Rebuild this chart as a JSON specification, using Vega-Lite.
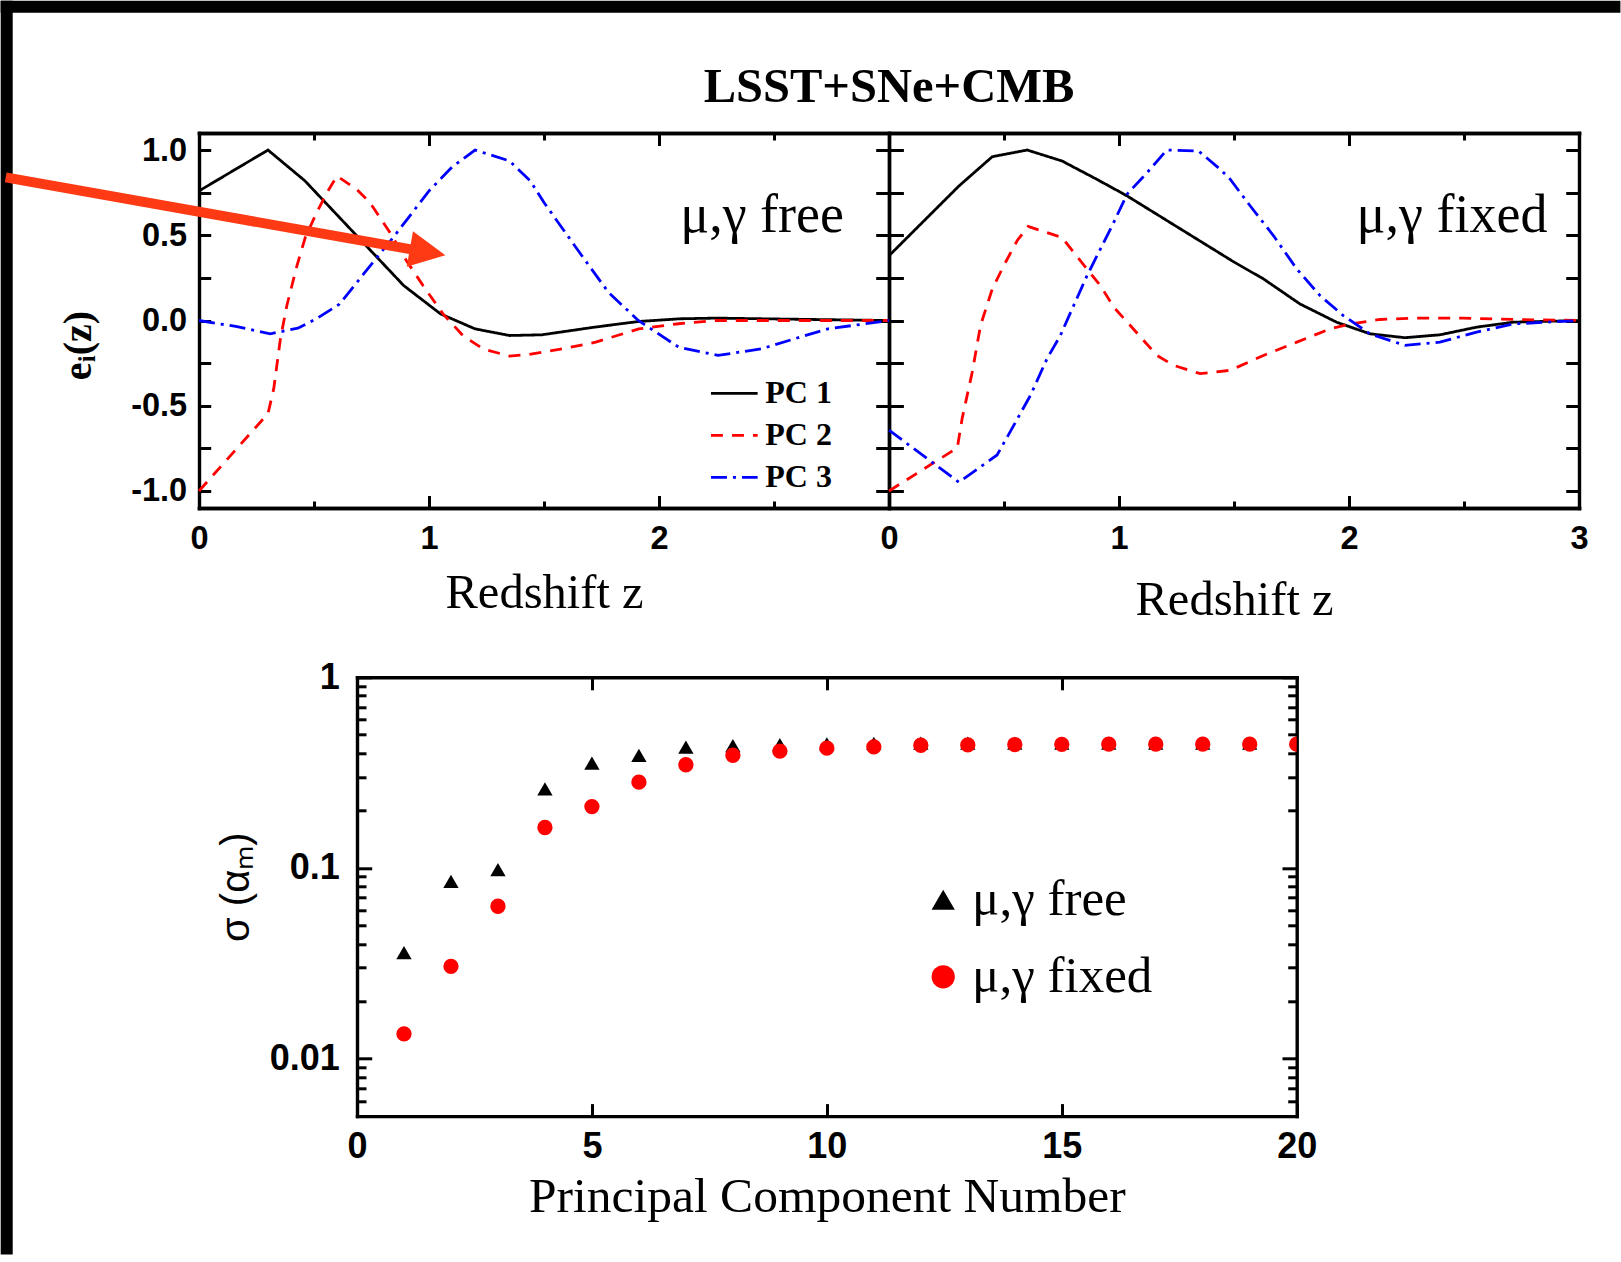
{
  "$schema": "https://vega.github.io/schema/vega-lite/v6.json",
  "background": "white",
  "padding": 0,
  "autosize": {"type": "pad"},
  "config": {
    "view": {"stroke": null},
    "axis": {"grid": false, "domainColor": "black", "domainWidth": 3.4, "domainCap": "square", "tickColor": "black", "tickWidth": 3, "labelColor": "black", "labelFont": "Liberation Sans", "labelFontWeight": "bold", "labelFlush": false, "labelOverlap": false, "labelBound": false, "titleColor": "black"},
    "legend": {"labelColor": "black", "labelLimit": 0}
  },
  "datasets": {
    "free": [
      {"pc": "PC 1", "z": 0, "e": 0.76}, {"pc": "PC 1", "z": 0.30, "e": 1.0}, {"pc": "PC 1", "z": 0.46, "e": 0.82}, {"pc": "PC 1", "z": 0.89, "e": 0.205}, {"pc": "PC 1", "z": 1.05, "e": 0.039}, {"pc": "PC 1", "z": 1.20, "e": -0.049}, {"pc": "PC 1", "z": 1.35, "e": -0.088}, {"pc": "PC 1", "z": 1.49, "e": -0.084}, {"pc": "PC 1", "z": 1.72, "e": -0.039}, {"pc": "PC 1", "z": 1.91, "e": -0.006}, {"pc": "PC 1", "z": 2.09, "e": 0.01}, {"pc": "PC 1", "z": 2.25, "e": 0.014}, {"pc": "PC 1", "z": 2.45, "e": 0.01}, {"pc": "PC 1", "z": 3.0, "e": 0.0},
      {"pc": "PC 2", "z": 0, "e": -1.0}, {"pc": "PC 2", "z": 0.30, "e": -0.546}, {"pc": "PC 2", "z": 0.325, "e": -0.40}, {"pc": "PC 2", "z": 0.354, "e": -0.107}, {"pc": "PC 2", "z": 0.382, "e": 0.088}, {"pc": "PC 2", "z": 0.426, "e": 0.322}, {"pc": "PC 2", "z": 0.462, "e": 0.487}, {"pc": "PC 2", "z": 0.512, "e": 0.634}, {"pc": "PC 2", "z": 0.556, "e": 0.75}, {"pc": "PC 2", "z": 0.60, "e": 0.848}, {"pc": "PC 2", "z": 0.685, "e": 0.77}, {"pc": "PC 2", "z": 0.743, "e": 0.692}, {"pc": "PC 2", "z": 0.83, "e": 0.517}, {"pc": "PC 2", "z": 0.902, "e": 0.351}, {"pc": "PC 2", "z": 0.974, "e": 0.205}, {"pc": "PC 2", "z": 1.061, "e": 0.039}, {"pc": "PC 2", "z": 1.147, "e": -0.088}, {"pc": "PC 2", "z": 1.234, "e": -0.166}, {"pc": "PC 2", "z": 1.349, "e": -0.209}, {"pc": "PC 2", "z": 1.436, "e": -0.199}, {"pc": "PC 2", "z": 1.58, "e": -0.166}, {"pc": "PC 2", "z": 1.725, "e": -0.127}, {"pc": "PC 2", "z": 1.912, "e": -0.049}, {"pc": "PC 2", "z": 2.085, "e": -0.019}, {"pc": "PC 2", "z": 2.244, "e": 0.0}, {"pc": "PC 2", "z": 3.0, "e": 0.0},
      {"pc": "PC 3", "z": 0, "e": 0.0}, {"pc": "PC 3", "z": 0.16, "e": -0.035}, {"pc": "PC 3", "z": 0.31, "e": -0.078}, {"pc": "PC 3", "z": 0.43, "e": -0.045}, {"pc": "PC 3", "z": 0.51, "e": 0.01}, {"pc": "PC 3", "z": 0.61, "e": 0.095}, {"pc": "PC 3", "z": 0.714, "e": 0.27}, {"pc": "PC 3", "z": 0.85, "e": 0.497}, {"pc": "PC 3", "z": 1.0, "e": 0.76}, {"pc": "PC 3", "z": 1.10, "e": 0.9}, {"pc": "PC 3", "z": 1.20, "e": 1.0}, {"pc": "PC 3", "z": 1.35, "e": 0.936}, {"pc": "PC 3", "z": 1.44, "e": 0.819}, {"pc": "PC 3", "z": 1.50, "e": 0.692}, {"pc": "PC 3", "z": 1.68, "e": 0.351}, {"pc": "PC 3", "z": 1.78, "e": 0.166}, {"pc": "PC 3", "z": 1.91, "e": 0.0}, {"pc": "PC 3", "z": 2.085, "e": -0.156}, {"pc": "PC 3", "z": 2.257, "e": -0.205}, {"pc": "PC 3", "z": 2.446, "e": -0.166}, {"pc": "PC 3", "z": 2.59, "e": -0.107}, {"pc": "PC 3", "z": 2.735, "e": -0.049}, {"pc": "PC 3", "z": 3.0, "e": 0.0}
    ],
    "fixed": [
      {"pc": "PC 1", "z": 0, "e": 0.38}, {"pc": "PC 1", "z": 0.304, "e": 0.789}, {"pc": "PC 1", "z": 0.449, "e": 0.961}, {"pc": "PC 1", "z": 0.601, "e": 1.0}, {"pc": "PC 1", "z": 0.752, "e": 0.936}, {"pc": "PC 1", "z": 0.904, "e": 0.828}, {"pc": "PC 1", "z": 1.035, "e": 0.731}, {"pc": "PC 1", "z": 1.5, "e": 0.343}, {"pc": "PC 1", "z": 1.628, "e": 0.244}, {"pc": "PC 1", "z": 1.787, "e": 0.097}, {"pc": "PC 1", "z": 1.946, "e": -0.01}, {"pc": "PC 1", "z": 2.091, "e": -0.078}, {"pc": "PC 1", "z": 2.243, "e": -0.101}, {"pc": "PC 1", "z": 2.395, "e": -0.084}, {"pc": "PC 1", "z": 2.555, "e": -0.039}, {"pc": "PC 1", "z": 2.714, "e": -0.01}, {"pc": "PC 1", "z": 3.0, "e": 0.0},
      {"pc": "PC 2", "z": 0, "e": -1.0}, {"pc": "PC 2", "z": 0.297, "e": -0.747}, {"pc": "PC 2", "z": 0.318, "e": -0.575}, {"pc": "PC 2", "z": 0.362, "e": -0.302}, {"pc": "PC 2", "z": 0.398, "e": -0.029}, {"pc": "PC 2", "z": 0.449, "e": 0.185}, {"pc": "PC 2", "z": 0.499, "e": 0.322}, {"pc": "PC 2", "z": 0.557, "e": 0.468}, {"pc": "PC 2", "z": 0.605, "e": 0.552}, {"pc": "PC 2", "z": 0.752, "e": 0.487}, {"pc": "PC 2", "z": 0.803, "e": 0.40}, {"pc": "PC 2", "z": 0.861, "e": 0.302}, {"pc": "PC 2", "z": 0.919, "e": 0.205}, {"pc": "PC 2", "z": 0.977, "e": 0.078}, {"pc": "PC 2", "z": 1.049, "e": -0.029}, {"pc": "PC 2", "z": 1.165, "e": -0.205}, {"pc": "PC 2", "z": 1.237, "e": -0.263}, {"pc": "PC 2", "z": 1.353, "e": -0.312}, {"pc": "PC 2", "z": 1.484, "e": -0.292}, {"pc": "PC 2", "z": 1.628, "e": -0.205}, {"pc": "PC 2", "z": 1.773, "e": -0.127}, {"pc": "PC 2", "z": 1.918, "e": -0.049}, {"pc": "PC 2", "z": 2.005, "e": -0.02}, {"pc": "PC 2", "z": 2.135, "e": 0.006}, {"pc": "PC 2", "z": 2.28, "e": 0.014}, {"pc": "PC 2", "z": 2.497, "e": 0.014}, {"pc": "PC 2", "z": 2.714, "e": 0.006}, {"pc": "PC 2", "z": 3.0, "e": 0.0},
      {"pc": "PC 3", "z": 0, "e": -0.643}, {"pc": "PC 3", "z": 0.304, "e": -0.949}, {"pc": "PC 3", "z": 0.47, "e": -0.789}, {"pc": "PC 3", "z": 0.543, "e": -0.614}, {"pc": "PC 3", "z": 0.615, "e": -0.439}, {"pc": "PC 3", "z": 0.687, "e": -0.224}, {"pc": "PC 3", "z": 0.745, "e": -0.088}, {"pc": "PC 3", "z": 0.803, "e": 0.088}, {"pc": "PC 3", "z": 0.861, "e": 0.263}, {"pc": "PC 3", "z": 0.919, "e": 0.419}, {"pc": "PC 3", "z": 0.977, "e": 0.575}, {"pc": "PC 3", "z": 1.035, "e": 0.741}, {"pc": "PC 3", "z": 1.122, "e": 0.867}, {"pc": "PC 3", "z": 1.208, "e": 1.0}, {"pc": "PC 3", "z": 1.346, "e": 0.994}, {"pc": "PC 3", "z": 1.44, "e": 0.887}, {"pc": "PC 3", "z": 1.484, "e": 0.828}, {"pc": "PC 3", "z": 1.57, "e": 0.673}, {"pc": "PC 3", "z": 1.672, "e": 0.497}, {"pc": "PC 3", "z": 1.773, "e": 0.302}, {"pc": "PC 3", "z": 1.874, "e": 0.146}, {"pc": "PC 3", "z": 1.975, "e": 0.029}, {"pc": "PC 3", "z": 2.091, "e": -0.078}, {"pc": "PC 3", "z": 2.243, "e": -0.146}, {"pc": "PC 3", "z": 2.395, "e": -0.127}, {"pc": "PC 3", "z": 2.555, "e": -0.068}, {"pc": "PC 3", "z": 2.714, "e": -0.02}, {"pc": "PC 3", "z": 3.0, "e": 0.0}
    ],
    "sigma": [
      {"n": 1, "case": "μ,γ free", "s": 0.036}, {"n": 2, "case": "μ,γ free", "s": 0.085}, {"n": 3, "case": "μ,γ free", "s": 0.098}, {"n": 4, "case": "μ,γ free", "s": 0.26}, {"n": 5, "case": "μ,γ free", "s": 0.355}, {"n": 6, "case": "μ,γ free", "s": 0.39}, {"n": 7, "case": "μ,γ free", "s": 0.43}, {"n": 8, "case": "μ,γ free", "s": 0.438}, {"n": 9, "case": "μ,γ free", "s": 0.443}, {"n": 10, "case": "μ,γ free", "s": 0.448}, {"n": 11, "case": "μ,γ free", "s": 0.45}, {"n": 12, "case": "μ,γ free", "s": 0.452}, {"n": 13, "case": "μ,γ free", "s": 0.452}, {"n": 14, "case": "μ,γ free", "s": 0.452}, {"n": 15, "case": "μ,γ free", "s": 0.452}, {"n": 16, "case": "μ,γ free", "s": 0.452}, {"n": 17, "case": "μ,γ free", "s": 0.452}, {"n": 18, "case": "μ,γ free", "s": 0.452}, {"n": 19, "case": "μ,γ free", "s": 0.452},
      {"n": 1, "case": "μ,γ fixed", "s": 0.0135}, {"n": 2, "case": "μ,γ fixed", "s": 0.0305}, {"n": 3, "case": "μ,γ fixed", "s": 0.063}, {"n": 4, "case": "μ,γ fixed", "s": 0.163}, {"n": 5, "case": "μ,γ fixed", "s": 0.21}, {"n": 6, "case": "μ,γ fixed", "s": 0.282}, {"n": 7, "case": "μ,γ fixed", "s": 0.348}, {"n": 8, "case": "μ,γ fixed", "s": 0.39}, {"n": 9, "case": "μ,γ fixed", "s": 0.41}, {"n": 10, "case": "μ,γ fixed", "s": 0.425}, {"n": 11, "case": "μ,γ fixed", "s": 0.432}, {"n": 12, "case": "μ,γ fixed", "s": 0.44}, {"n": 13, "case": "μ,γ fixed", "s": 0.442}, {"n": 14, "case": "μ,γ fixed", "s": 0.444}, {"n": 15, "case": "μ,γ fixed", "s": 0.445}, {"n": 16, "case": "μ,γ fixed", "s": 0.446}, {"n": 17, "case": "μ,γ fixed", "s": 0.446}, {"n": 18, "case": "μ,γ fixed", "s": 0.446}, {"n": 19, "case": "μ,γ fixed", "s": 0.446}, {"n": 20, "case": "μ,γ fixed", "s": 0.446}
    ]
  },
  "resolve": {"scale": {"color": "independent", "shape": "independent", "size": "independent", "strokeDash": "independent"}},
  "spacing": 169.3,
  "bounds": "flush",
  "vconcat": [
    {
      "width": 1380, "height": 375,
      "resolve": {"scale": {"x": "independent"}, "axis": {"x": "independent", "y": "independent"}},
      "layer": [
        {
          "data": {"values": [{}]},
          "mark": {"type": "rect", "color": "black"},
          "encoding": {
            "x": {"datum": -0.8622, "type": "quantitative", "scale": {"domain": [0, 6], "nice": false, "zero": false}, "axis": null},
            "x2": {"datum": 6.18},
            "y": {"datum": 1.8762, "type": "quantitative", "scale": {"domain": [-1.1, 1.1], "nice": false, "zero": false}, "axis": null},
            "y2": {"datum": 1.8058}
          }
        },
        {
          "data": {"values": [{}]},
          "mark": {"type": "rect", "color": "black"},
          "encoding": {
            "x": {"datum": -0.8622, "type": "quantitative", "scale": {"domain": [0, 6], "nice": false, "zero": false}, "axis": null},
            "x2": {"datum": -0.81},
            "y": {"datum": 1.8762, "type": "quantitative", "scale": {"domain": [-1.1, 1.1], "nice": false, "zero": false}, "axis": null},
            "y2": {"datum": -5.48}
          }
        },
        {
          "data": {"name": "free"},
          "mark": {"type": "line", "strokeWidth": 2.8},
          "encoding": {
            "x": {"field": "z", "type": "quantitative", "scale": {"domain": [0, 6], "nice": false, "zero": false},
              "axis": {"orient": "bottom", "values": [0, 0.5, 1, 1.5, 2, 2.5], "labelExpr": "datum.value % 1 === 0 ? '' + datum.value : ''", "tickSize": {"condition": {"test": "datum.value % 1 === 0", "value": -12.5}, "value": -7}, "labelFontSize": 32.5, "labelPadding": 27.4, "title": "Redshift z", "titleFont": "Liberation Serif", "titleFontWeight": "normal", "titleFontSize": 48.5, "titleBaseline": "alphabetic", "titleX": 345, "titleAlign": "center", "titleY": 99.9}},
            "y": {"field": "e", "type": "quantitative", "scale": {"domain": [-1.1, 1.1], "nice": false, "zero": false},
              "axis": {"orient": "left", "values": [-1, -0.75, -0.5, -0.25, 0, 0.25, 0.5, 0.75, 1], "labelExpr": "datum.value % 0.5 === 0 ? (datum.value < 0 ? '-' : '') + format(abs(datum.value), '.1f') : ''", "tickSize": -11.7, "labelFontSize": 32.5, "labelPadding": 24, "title": "eᵢ(z)", "titleFont": "Liberation Serif", "titleFontWeight": "bold", "titleFontSize": 40, "titleAngle": 270, "titleX": -120.5, "titleY": 212, "titleAlign": "center", "titleBaseline": "middle"}},
            "color": {"field": "pc", "type": "nominal", "scale": {"domain": ["PC 1", "PC 2", "PC 3"], "range": ["#000000", "#ff0000", "#0000ff"]},
              "legend": {"orient": "none", "legendX": 510.3, "legendY": 235.4, "title": null, "symbolType": "stroke", "symbolSize": 2180, "symbolStrokeWidth": 2.8, "labelFont": "Liberation Serif", "labelFontWeight": "bold", "labelFontSize": 32, "labelOffset": 6, "rowPadding": 1, "padding": 0}},
            "strokeDash": {"field": "pc", "type": "nominal", "scale": {"domain": ["PC 1", "PC 2", "PC 3"], "range": [[1, 0], [12, 9], [16, 6, 3, 6]]},
              "legend": {"orient": "none", "legendX": 510.3, "legendY": 235.4, "title": null, "symbolType": "stroke", "symbolSize": 2180, "symbolStrokeWidth": 2.8, "labelFont": "Liberation Serif", "labelFontWeight": "bold", "labelFontSize": 32, "labelOffset": 6, "rowPadding": 1, "padding": 0}}
          }
        },
        {
          "data": {"name": "fixed"},
          "mark": {"type": "line", "strokeWidth": 2.8},
          "encoding": {
            "x": {"field": "z", "type": "quantitative", "scale": {"domain": [-3, 3], "nice": false, "zero": false},
              "axis": {"orient": "bottom", "values": [0, 0.5, 1, 1.5, 2, 2.5, 3], "labelExpr": "datum.value % 1 === 0 ? '' + datum.value : ''", "tickSize": {"condition": {"test": "datum.value % 1 === 0", "value": -12.5}, "value": -7}, "labelFontSize": 32.5, "labelPadding": 27.4, "title": "Redshift z", "titleFont": "Liberation Serif", "titleFontWeight": "normal", "titleFontSize": 48.5, "titleBaseline": "alphabetic", "titleX": 1035, "titleAlign": "center", "titleY": 106.9}},
            "y": {"field": "e", "type": "quantitative", "scale": {"domain": [-1.1, 1.1], "nice": false, "zero": false},
              "axis": {"orient": "right", "values": [-1, -0.75, -0.5, -0.25, 0, 0.25, 0.5, 0.75, 1], "labels": false, "tickSize": -13.3, "title": null}},
            "color": {"field": "pc", "type": "nominal", "scale": {"domain": ["PC 1", "PC 2", "PC 3"], "range": ["#000000", "#ff0000", "#0000ff"]}},
            "strokeDash": {"field": "pc", "type": "nominal", "scale": {"domain": ["PC 1", "PC 2", "PC 3"], "range": [[1, 0], [12, 9], [16, 6, 3, 6]]}}
          }
        },
        {
          "data": {"name": "free"},
          "mark": {"type": "line", "opacity": 0},
          "encoding": {
            "x": {"field": "z", "type": "quantitative", "scale": {"domain": [0, 6], "nice": false, "zero": false},
              "axis": {"orient": "top", "values": [0.5, 1, 1.5, 2, 2.5], "labels": false, "tickSize": {"condition": {"test": "datum.value % 1 === 0", "value": -12.5}, "value": -7}, "title": null}},
            "y": {"field": "e", "type": "quantitative", "scale": {"domain": [-1.1, 1.1], "nice": false, "zero": false},
              "axis": {"orient": "right", "offset": -690, "values": [-1, -0.75, -0.5, -0.25, 0, 0.25, 0.5, 0.75, 1], "labels": false, "tickSize": -13.3, "title": null}}
          }
        },
        {
          "data": {"name": "fixed"},
          "mark": {"type": "line", "opacity": 0},
          "encoding": {
            "x": {"field": "z", "type": "quantitative", "scale": {"domain": [-3, 3], "nice": false, "zero": false},
              "axis": {"orient": "top", "values": [0.5, 1, 1.5, 2, 2.5], "labels": false, "tickSize": {"condition": {"test": "datum.value % 1 === 0", "value": -12.5}, "value": -7}, "title": null}},
            "y": {"field": "e", "type": "quantitative", "scale": {"domain": [-1.1, 1.1], "nice": false, "zero": false},
              "axis": {"orient": "left", "offset": -690, "values": [-1, -0.75, -0.5, -0.25, 0, 0.25, 0.5, 0.75, 1], "labels": false, "tickSize": -14.4, "title": null}}
          }
        },
        {
          "data": {"values": [{}]},
          "mark": {"type": "text", "text": "LSST+SNe+CMB", "font": "Liberation Serif", "fontWeight": "bold", "fontSize": 48.5, "align": "center", "baseline": "alphabetic", "color": "black"},
          "encoding": {
            "x": {"datum": 3, "type": "quantitative", "scale": {"domain": [0, 6], "nice": false, "zero": false}, "axis": null},
            "y": {"datum": 1.2796, "type": "quantitative", "scale": {"domain": [-1.1, 1.1], "nice": false, "zero": false}, "axis": null}
          }
        },
        {
          "data": {"values": [{}]},
          "mark": {"type": "text", "text": "μ,γ free", "font": "Liberation Serif", "fontSize": 54, "align": "right", "baseline": "alphabetic", "color": "black"},
          "encoding": {
            "x": {"datum": 2.804, "type": "quantitative", "scale": {"domain": [0, 6], "nice": false, "zero": false}, "axis": null},
            "y": {"datum": 0.521, "type": "quantitative", "scale": {"domain": [-1.1, 1.1], "nice": false, "zero": false}, "axis": null}
          }
        },
        {
          "data": {"values": [{}]},
          "mark": {"type": "text", "text": "μ,γ fixed", "font": "Liberation Serif", "fontSize": 54, "align": "right", "baseline": "alphabetic", "color": "black"},
          "encoding": {
            "x": {"datum": 2.8626, "type": "quantitative", "scale": {"domain": [-3, 3], "nice": false, "zero": false}, "axis": null},
            "y": {"datum": 0.521, "type": "quantitative", "scale": {"domain": [-1.1, 1.1], "nice": false, "zero": false}, "axis": null}
          }
        },
        {
          "data": {"values": [{}]},
          "mark": {"type": "rule", "color": "#fe3a14", "strokeWidth": 10, "strokeCap": "butt"},
          "encoding": {
            "x": {"datum": -0.8404, "type": "quantitative", "scale": {"domain": [0, 6], "nice": false, "zero": false}, "axis": null},
            "x2": {"datum": 0.9291},
            "y": {"datum": 0.8395, "type": "quantitative", "scale": {"domain": [-1.1, 1.1], "nice": false, "zero": false}, "axis": null},
            "y2": {"datum": 0.4154}
          }
        },
        {
          "data": {"values": [{}]},
          "mark": {"type": "point", "shape": "M1,0L-1,-1L-1,1Z", "filled": true, "color": "#fe3a14", "opacity": 1, "size": 1300, "angle": 10},
          "encoding": {
            "x": {"datum": 0.9939, "type": "quantitative", "scale": {"domain": [0, 6], "nice": false, "zero": false}, "axis": null},
            "y": {"datum": 0.4007, "type": "quantitative", "scale": {"domain": [-1.1, 1.1], "nice": false, "zero": false}, "axis": null}
          }
        }
      ]
    },
    {
      "spacing": 0,
      "bounds": "flush",
      "hconcat": [
        {
          "width": 157.3, "height": 20,
          "data": {"values": [{}]},
          "mark": {"type": "point", "opacity": 0}
        },
        {
          "width": 939.7, "height": 438.8,
          "data": {"name": "sigma"},
          "resolve": {"axis": {"x": "independent", "y": "independent"}},
          "layer": [
            {
              "mark": {"type": "point", "filled": true, "opacity": 1, "clip": true, "size": 235},
              "encoding": {
                "x": {"field": "n", "type": "quantitative", "scale": {"domain": [0, 20], "nice": false, "zero": false},
                  "axis": {"orient": "bottom", "values": [0, 5, 10, 15, 20], "format": "d", "tickSize": -12.5, "labelFontSize": 36, "labelPadding": 26, "title": "Principal Component Number", "titleFont": "Liberation Serif", "titleFontWeight": "normal", "titleFontSize": 49.5, "titleBaseline": "alphabetic", "titleY": 95.6}},
                "y": {"field": "s", "type": "quantitative", "scale": {"type": "log", "domain": [0.005, 1], "nice": false},
                  "axis": {"orient": "left", "values": [0.006, 0.007, 0.008, 0.009, 0.01, 0.02, 0.03, 0.04, 0.05, 0.06, 0.07, 0.08, 0.09, 0.1, 0.2, 0.3, 0.4, 0.5, 0.6, 0.7, 0.8, 0.9, 1], "labelExpr": "indexof([0.01, 0.1, 1], datum.value) >= 0 ? format(datum.value, '~g') : ''", "tickSize": {"condition": {"test": "indexof([0.01, 0.1, 1], datum.value) >= 0", "value": -14.7}, "value": -9}, "labelFontSize": 36, "labelPadding": 32.4, "title": "σ (αₘ)", "titleFont": "Liberation Sans", "titleFontWeight": "normal", "titleFontSize": 40, "titleAngle": 270, "titleX": -120.3, "titleY": 209.4, "titleAlign": "center", "titleBaseline": "middle"}},
                "shape": {"field": "case", "type": "nominal", "scale": {"domain": ["μ,γ free", "μ,γ fixed"], "range": ["triangle-up", "circle"]},
                  "legend": {"orient": "none", "legendX": 718.7, "legendY": 197, "title": null, "symbolSize": 540, "symbolStrokeWidth": 0, "labelFont": "Liberation Serif", "labelFontSize": 51, "labelOffset": 3.4, "rowPadding": 25, "padding": 0}},
                "color": {"field": "case", "type": "nominal", "scale": {"domain": ["μ,γ free", "μ,γ fixed"], "range": ["#000000", "#ff0000"]},
                  "legend": {"orient": "none", "legendX": 718.7, "legendY": 197, "title": null, "symbolSize": 540, "symbolStrokeWidth": 0, "labelFont": "Liberation Serif", "labelFontSize": 51, "labelOffset": 3.4, "rowPadding": 25, "padding": 0}}
              }
            },
            {
              "mark": {"type": "point", "opacity": 0},
              "encoding": {
                "x": {"field": "n", "type": "quantitative", "scale": {"domain": [0, 20], "nice": false, "zero": false},
                  "axis": {"orient": "top", "values": [5, 10, 15], "labels": false, "tickSize": -12.5, "title": null}},
                "y": {"field": "s", "type": "quantitative", "scale": {"type": "log", "domain": [0.005, 1], "nice": false},
                  "axis": {"orient": "right", "values": [0.006, 0.007, 0.008, 0.009, 0.01, 0.02, 0.03, 0.04, 0.05, 0.06, 0.07, 0.08, 0.09, 0.1, 0.2, 0.3, 0.4, 0.5, 0.6, 0.7, 0.8, 0.9, 1], "labels": false, "tickSize": {"condition": {"test": "indexof([0.01, 0.1, 1], datum.value) >= 0", "value": -14.7}, "value": -9}, "title": null}}
              }
            }
          ]
        }
      ]
    }
  ]
}
